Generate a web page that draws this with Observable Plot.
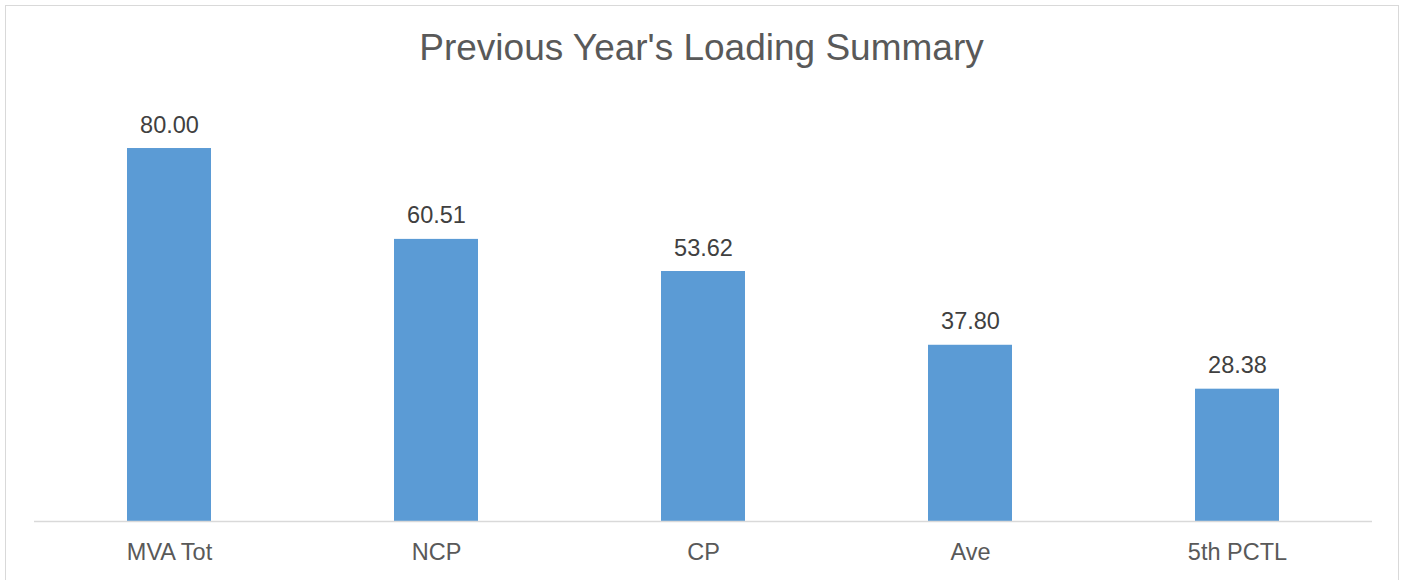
<!DOCTYPE html>
<html>
<head>
<meta charset="utf-8">
<script src="https://cdn.jsdelivr.net/npm/d3@7"></script>
<script src="https://cdn.jsdelivr.net/npm/@observablehq/plot@0.6"></script>
<style>
  html, body { margin: 0; padding: 0; background: #fff; overflow: hidden; }
  #wrap { position: relative; width: 1403px; height: 580px; font-family: "Liberation Sans", Arial, sans-serif; }
  #frame { position: absolute; left: 5px; top: 5px; width: 1394px; height: 600px; border: 1.5px solid #d9d9d9; box-sizing: border-box; }
  #title { position: absolute; left: 0; top: 28.7px; width: 1403px; text-align: center; font-size: 37px; line-height: 1; color: #595959; }
  #chart { position: absolute; left: 0; top: 0; }
</style>
</head>
<body>
<div id="wrap">
  <div id="frame"></div>
  <div id="chart"></div>
  <div id="title">Previous Year's Loading Summary</div>
</div>
<script>
const categories = ["MVA Tot", "NCP", "CP", "Ave", "5th PCTL"];
const values = [80.00, 60.51, 53.62, 37.80, 28.38];

const data = categories.map((c, i) => ({category: c, value: values[i]}));

const chart = Plot.plot({
  width: 1403,
  height: 580,
  marginLeft: 34,
  marginRight: 31,
  marginTop: 101.4,
  marginBottom: 59,
  style: {fontFamily: "'Liberation Sans', Arial, sans-serif", background: "transparent", overflow: "visible"},
  x: {domain: categories, paddingInner: 0.686, paddingOuter: 0.343, label: null},
  y: {domain: [0, 90], axis: null},
  marks: [
    Plot.barY(data, {x: "category", y: "value", fill: "#5B9BD5"}),
    Plot.ruleY([0], {stroke: "#d9d9d9", strokeWidth: 1.5}),
    Plot.text(data, {x: "category", y: "value", text: d => d.value.toFixed(2), lineAnchor: "bottom", dy: -16, fontSize: 23.5, fill: "#404040"}),
    Plot.axisX({tickSize: 0, tickPadding: 22, fontSize: 23.5, color: "#595959", label: null})
  ]
});
document.getElementById("chart").appendChild(chart);
</script>
</body>
</html>
